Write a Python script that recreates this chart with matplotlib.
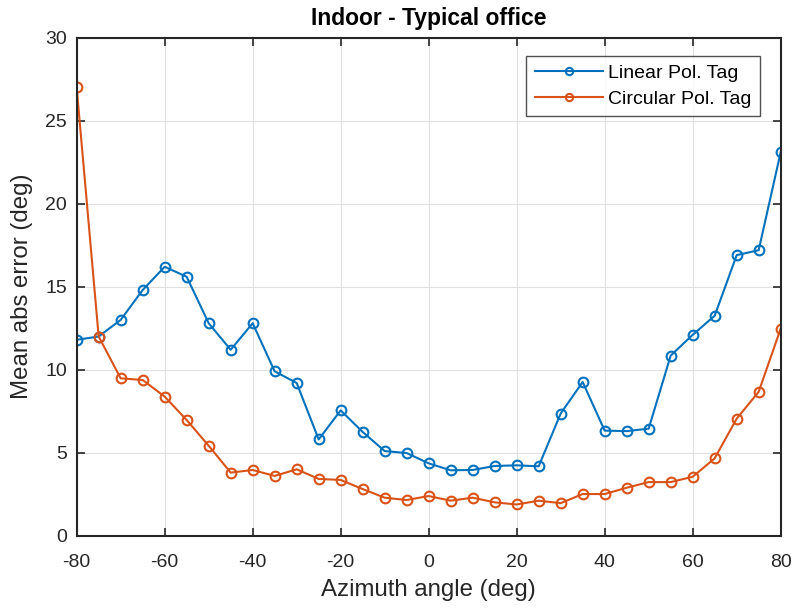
import matplotlib
matplotlib.use("Agg")
import matplotlib.pyplot as plt

angles = list(range(-80, 81, 5))
linear_err = [11.8, 12.0, 13.0, 14.8, 16.2, 15.6, 12.8, 11.2, 12.8, 9.9, 9.2, 5.8,
              7.55, 6.25, 5.1, 4.98, 4.36, 3.94, 3.96, 4.2, 4.24, 4.18,
              7.36, 9.26, 6.33, 6.3, 6.45, 10.85, 12.1, 13.25, 16.9, 17.2, 23.1]
circular_err = [27.0, 12.0, 9.48, 9.38, 8.38, 6.97, 5.42, 3.8, 3.96, 3.6, 4.0, 3.42,
                3.36, 2.81, 2.29, 2.15, 2.39, 2.11, 2.29, 2.01, 1.88, 2.11,
                1.96, 2.51, 2.51, 2.89, 3.23, 3.23, 3.55, 4.66, 7.05, 8.67, 12.47]
x_ticks = list(range(-80, 81, 20))
y_ticks = list(range(0, 31, 5))

plt.rcParams['font.family'] = ['Liberation Sans', 'DejaVu Sans']
plt.rcParams['axes.unicode_minus'] = False

fig = plt.figure(figsize=(7.92, 6.08), dpi=100)
ax = fig.add_axes([0.0968, 0.1189, 0.8889, 0.8191])

ax.plot(angles, linear_err, '-o', color='#0072BD', lw=1.5, ms=7,
        mfc='none', mew=1.5, label='Linear Pol. Tag')
ax.plot(angles, circular_err, '-o', color='#D95319', lw=1.5, ms=7,
        mfc='none', mew=1.5, label='Circular Pol. Tag')

ax.set_xlim(-80, 80)
ax.set_ylim(0, 30)
ax.set_xticks(x_ticks)
ax.set_yticks(y_ticks)
ax.grid(True, color='#e0e0e0', lw=0.8)
ax.set_axisbelow(True)
ax.tick_params(direction='in', length=6, width=1.2, labelsize=14,
               top=True, right=True, colors='#262626')
ax.tick_params(axis='x', pad=13)
ax.tick_params(axis='y', pad=7)
for s in ax.spines.values():
    s.set_linewidth(1.5)
    s.set_color('#262626')

ax.set_xlabel('Azimuth angle (deg)', fontsize=17.3, color='#262626')
ax.set_ylabel('Mean abs error (deg)', fontsize=17.3, color='#262626')
ax.xaxis.set_label_coords(0.5, -0.087)
ax.yaxis.set_label_coords(-0.062, 0.5)
ax.set_title('Indoor - Typical office', fontsize=16.5, fontweight='bold',
             color='black', pad=9.1)

leg = ax.legend(loc='upper right', bbox_to_anchor=(0.9706, 0.9633), borderaxespad=0,
                fontsize=14, frameon=True, fancybox=False, edgecolor='#262626',
                handlelength=3.5, handletextpad=0.3, borderpad=0.42,
                labelspacing=0.42, markerscale=0.75)
leg.get_frame().set_linewidth(1.0)

fig.savefig('out.png', dpi=100)
